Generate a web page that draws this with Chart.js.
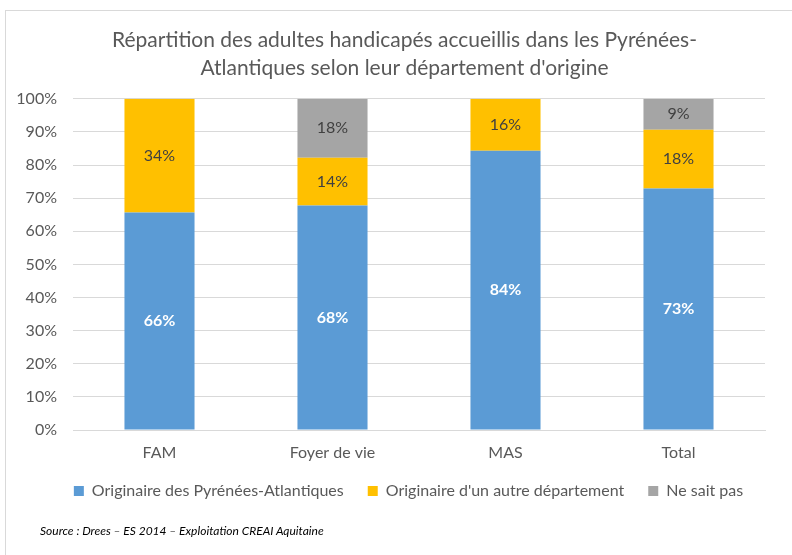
<!DOCTYPE html>
<html>
<head>
<meta charset="utf-8">
<script src="https://cdn.jsdelivr.net/npm/chart.js@4/dist/chart.umd.min.js"></script>
<style>
    html, body { margin: 0; padding: 0; background: #fff; }
    #wrap { position: relative; width: 792px; height: 555px; overflow: hidden; }
    #frame { position: absolute; left: 5px; top: 10px; width: 800px; height: 560px; border: 1px solid #d9d9d9; box-sizing: border-box; }
    #c { position: absolute; left: 0; top: 0; }
    #source { position: absolute; left: 40px; top: 523px; font-family: Lato, sans-serif; font-style: italic; font-size: 12px; color: #000; }
</style>
</head>
<body>
<div id="wrap">
    <div id="frame"></div>
    <canvas id="c" width="792" height="555"></canvas>
    <div id="source">Source : Drees – ES 2014 – Exploitation CREAI Aquitaine</div>
</div>
<script>
const categories = ["FAM", "Foyer de vie", "MAS", "Total"];
const seriesNames = ["Originaire des Pyrénées-Atlantiques", "Originaire d'un autre département", "Ne sait pas"];
const localValues = [65.7, 67.8, 84.3, 72.9];
const otherValues = [34.3, 14.4, 15.7, 17.8];
const unknownValues = [0, 17.8, 0, 9.3];
const yTicks = [0, 10, 20, 30, 40, 50, 60, 70, 80, 90, 100];

const fontFamily = "Lato, 'Open Sans', sans-serif";
const textGrey = "#595959";

const barLabels = {
    id: "barLabels",
    afterDatasetsDraw(chart) {
        const ctx = chart.ctx;
        chart.data.datasets.forEach((ds, i) => {
            const meta = chart.getDatasetMeta(i);
            meta.data.forEach((bar, j) => {
                const v = ds.data[j];
                if (!v) return;
                ctx.save();
                ctx.font = (i === 0 ? "bold " : "") + "16px " + fontFamily;
                ctx.fillStyle = i === 0 ? "#ffffff" : "#404040";
                ctx.textAlign = "center";
                ctx.textBaseline = "middle";
                ctx.fillText(Math.round(v) + "%", bar.x, (bar.y + bar.base) / 2);
                ctx.restore();
            });
        });
    }
};

// title and legend are centred on the whole frame in the original, not on the plot
const centreOnFrame = {
    id: "centreOnFrame",
    afterLayout(chart) {
        chart.titleBlock.left += 22;
        chart.titleBlock.right += 22;
        chart.legend.left += 26;
        chart.legend.right += 26;
        chart.legend.top -= 5;
        chart.legend.bottom -= 5;
    }
};

new Chart(document.getElementById("c"), {
    type: "bar",
    data: {
        labels: categories,
        datasets: [
            { label: seriesNames[0], data: localValues, backgroundColor: "#5b9bd5" },
            { label: seriesNames[1], data: otherValues, backgroundColor: "#ffc000" },
            { label: seriesNames[2], data: unknownValues, backgroundColor: "#a5a5a5" }
        ]
    },
    options: {
        responsive: false,
        animation: false,
        layout: { padding: { left: 0, right: 27, top: 0, bottom: 41 } },
        datasets: { bar: { categoryPercentage: 1, barPercentage: 0.405 } },
        plugins: {
            title: {
                display: true,
                text: ["Répartition des adultes handicapés accueillis dans les Pyrénées-", "Atlantiques selon leur département d'origine"],
                color: textGrey,
                font: { family: fontFamily, size: 21, weight: "normal", lineHeight: 1.33 },
                padding: { top: 26, bottom: 17 }
            },
            legend: {
                position: "bottom",
                labels: {
                    color: textGrey,
                    font: { family: fontFamily, size: 16 },
                    boxWidth: 10,
                    boxHeight: 10,
                    padding: 24
                }
            },
            tooltip: { enabled: false }
        },
        scales: {
            x: {
                stacked: true,
                afterFit(scale) { scale.height = 34; },
                grid: { display: false },
                border: { color: "#d9d9d9" },
                ticks: { color: textGrey, font: { family: fontFamily, size: 16 }, padding: 5 }
            },
            y: {
                stacked: true,
                min: 0,
                max: 100,
                afterFit(scale) { scale.width = 73; },
                afterBuildTicks(scale) { scale.ticks = yTicks.map(v => ({ value: v })); },
                grid: { color: "#d9d9d9", drawTicks: false },
                border: { display: false },
                ticks: {
                    color: textGrey,
                    font: { family: fontFamily, size: 16 },
                    padding: 16,
                    callback: v => v + "%"
                }
            }
        }
    },
    plugins: [barLabels, centreOnFrame]
});
</script>
</body>
</html>
